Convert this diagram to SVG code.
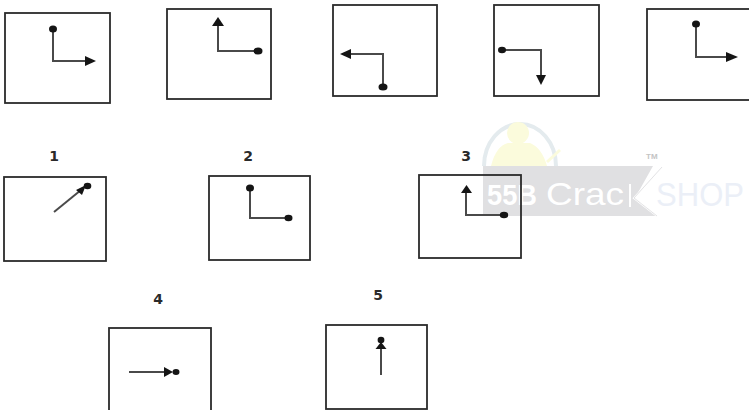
<svg xmlns="http://www.w3.org/2000/svg" width="749" height="410" viewBox="0 0 749 410">
<style>
.box{fill:none;stroke:#2b2b2b;stroke-width:1.800}
.ln{fill:none;stroke:#4a4a4a;stroke-width:2}
.dot{fill:#151515}
.head{fill:#151515}
.num{font-family:"DejaVu Sans",sans-serif;font-weight:700;font-size:14px;fill:#2a2a2a;text-anchor:middle}
.wm{font-family:"Liberation Sans",sans-serif}
</style>
<rect width="749" height="410" fill="#fff"/>
<g id="watermark">
<path d="M484 166 A36 42 0 0 1 556 166" fill="none" stroke="#e4ebee" stroke-width="4"/>
<circle cx="518" cy="133" r="11" fill="#fbfbdc"/>
<path d="M491 166 Q496 146 508 143 L530 143 Q542 148 547 166 Z" fill="#fbfbdc"/>
<path d="M547 162 L560 150" stroke="#fbfbdc" stroke-width="3" fill="none"/>
<path d="M483 166 H653 L635 198 L657 216 H483 Z" fill="#e0e0e2"/>
<text class="wm" x="487" y="205" font-size="30" font-weight="700" fill="#fff" textLength="50" lengthAdjust="spacingAndGlyphs">55B</text>
<text class="wm" x="546" y="205" font-size="32" fill="#fff" textLength="78" lengthAdjust="spacingAndGlyphs">Crac</text>
<path d="M630 184 V207 M662 167 L634 198 L657 216" fill="none" stroke="#fff" stroke-width="2"/>
<path d="M662 167 L634 198 L657 216" fill="none" stroke="#e3e3e5" stroke-width="1"/>
<text class="wm" x="656" y="206" font-size="33" fill="#ebeff7" textLength="88" lengthAdjust="spacingAndGlyphs">SHOP</text>
<text class="wm" x="646" y="159" font-size="8" font-weight="700" fill="#c4c4c4">TM</text>
</g>
<g id="top-1"><rect class="box" x="5" y="13" width="105" height="90"/></g>
<g id="top-2"><rect class="box" x="167" y="9" width="104" height="90"/></g>
<g id="top-3"><rect class="box" x="333" y="5" width="104" height="91"/></g>
<g id="top-4"><rect class="box" x="494" y="5" width="105" height="91"/></g>
<g id="top-5"><rect class="box" x="647" y="9" width="104" height="91"/></g>
<g id="option-1"><rect class="box" x="4" y="177" width="102" height="84"/><text class="num" x="54" y="161">1</text></g>
<g id="option-2"><rect class="box" x="209" y="176" width="101" height="84"/><text class="num" x="248" y="161">2</text></g>
<g id="option-3"><rect class="box" x="419" y="175" width="102" height="83"/><text class="num" x="466" y="161">3</text></g>
<g id="option-4"><rect class="box" x="109" y="328" width="102" height="84"/><text class="num" x="158" y="304">4</text></g>
<g id="option-5"><rect class="box" x="326" y="325" width="101" height="84"/><text class="num" x="378" y="300">5</text></g>
<g id="connectors">
<path class="ln" d="M53 29 V61 H86"/><ellipse class="dot" cx="53" cy="29" rx="4" ry="3.600"/><path class="head" d="M85 56 L96 61 L85 66 Z"/>
<path class="ln" d="M258 51 H218 V25"/><ellipse class="dot" cx="258" cy="51" rx="4.500" ry="3.500"/><path class="head" d="M212 26 L218 17 L224 26 Z"/>
<path class="ln" d="M383 87 V54 H350"/><ellipse class="dot" cx="383" cy="87" rx="4.500" ry="3.500"/><path class="head" d="M351 49 L340 54 L351 59 Z"/>
<path class="ln" d="M502 50 H541 V76"/><ellipse class="dot" cx="502" cy="50" rx="4" ry="3.300"/><path class="head" d="M536 75 L541 85 L546 75 Z"/>
<path class="ln" d="M696 24 V57 H728"/><ellipse class="dot" cx="696" cy="24" rx="4" ry="3.600"/><path class="head" d="M726 52 L738 57 L726 62 Z"/>
<path class="ln" d="M54 212 L81 190"/><ellipse class="dot" cx="87.500" cy="186" rx="3.800" ry="3.200"/><path class="head" d="M76 190 L86 185 L82 195 Z"/>
<path class="ln" d="M250 188 V218 H288"/><ellipse class="dot" cx="250" cy="188" rx="4" ry="3.600"/><ellipse class="dot" cx="288.500" cy="218" rx="4" ry="3.200"/>
<path class="ln" d="M504 215 H466 V192"/><ellipse class="dot" cx="504" cy="215" rx="4.200" ry="3.200"/><path class="head" d="M461 193 L466.500 185 L472 193 Z"/>
<path class="ln" d="M129 372 H165" stroke-width="1.400"/><path class="head" d="M164 367 L173 372 L164 377 Z"/><ellipse class="dot" cx="176" cy="372" rx="3.500" ry="3"/>
<path class="ln" d="M381 375 V348"/><ellipse class="dot" cx="381" cy="340" rx="3.400" ry="3.200"/><path class="head" d="M375.500 349 L381 342 L386.500 349 Z"/>
</g>
</svg>
